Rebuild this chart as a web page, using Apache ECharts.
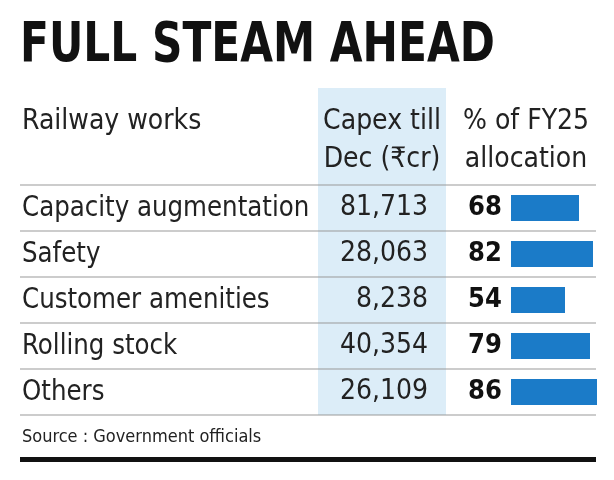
<!DOCTYPE html>
<html><head><meta charset="utf-8">
<script src="https://cdn.jsdelivr.net/npm/echarts@6/dist/echarts.min.js"></script>
<style>html,body{margin:0;padding:0;background:#fff}#c{width:614px;height:480px}</style>
</head><body><div id="c"></div>
<script>
const categories = ["Capacity augmentation","Safety","Customer amenities","Rolling stock","Others"];
const capex = ["81,713","28,063","8,238","40,354","26,109"];
const pct = [68,82,54,79,86];
const F = "'Liberation Sans Narrow','DejaVu Sans Condensed',sans-serif";
const chart = echarts.init(document.getElementById('c'));
chart.setOption({
  animation:false,
  grid:{left:511,width:100,top:185,height:230},
  xAxis:{type:'value',min:0,max:100,show:false},
  yAxis:{type:'category',data:categories,inverse:true,show:false},
  series:[{type:'bar',data:pct,barWidth:26,itemStyle:{color:'#1b7bc8'},silent:true}]
});
const g = [
  {type:'rect',shape:{x:318,y:88,width:128,height:327},style:{fill:'#dcedf8'},z:-1},
  {type:'text',x:20,y:46,scaleX:0.84,style:{x:0,y:0,text:'FULL STEAM AHEAD',font:"bold 56px "+F,fill:'#111',verticalAlign:'middle'}},
  {type:'text',style:{x:22,y:122,text:'Railway works',font:"28px "+F,fill:'#222',verticalAlign:'middle'}},
  {type:'text',style:{x:382,y:122,text:'Capex till',font:"28px "+F,fill:'#222',align:'center',verticalAlign:'middle'}},
  {type:'text',style:{x:382,y:160,text:'Dec (₹cr)',font:"28px "+F,fill:'#222',align:'center',verticalAlign:'middle'}},
  {type:'text',style:{x:526,y:122,text:'% of FY25',font:"28px "+F,fill:'#222',align:'center',verticalAlign:'middle'}},
  {type:'text',style:{x:526,y:160,text:'allocation',font:"28px "+F,fill:'#222',align:'center',verticalAlign:'middle'}},
  {type:'text',style:{x:22,y:437,text:'Source : Government officials',font:"18px "+F,fill:'#222',verticalAlign:'middle'}},
  {type:'rect',shape:{x:20,y:457,width:576,height:5},style:{fill:'#111'}},
  {type:'line',shape:{x1:20,y1:185,x2:596,y2:185},style:{stroke:'#999',lineWidth:1}}
];
categories.forEach((c,i)=>{
  const y = chart.convertToPixel({yAxisIndex:0}, c);
  g.push({type:'text',x:22,y:y,scaleX:0.94,style:{x:0,y:0,text:c,font:"29px "+F,fill:'#222',verticalAlign:'middle'}});
  g.push({type:'text',style:{x:428,y:y,text:capex[i],font:"28px "+F,fill:'#222',align:'right',verticalAlign:'middle'}});
  g.push({type:'text',style:{x:485,y:y,text:String(pct[i]),font:"bold 27px "+F,fill:'#111',align:'center',verticalAlign:'middle'}});
  g.push({type:'line',shape:{x1:20,y1:y+23,x2:596,y2:y+23},style:{stroke:'#999',lineWidth:1}});
});
chart.setOption({graphic:g});
</script></body></html>
